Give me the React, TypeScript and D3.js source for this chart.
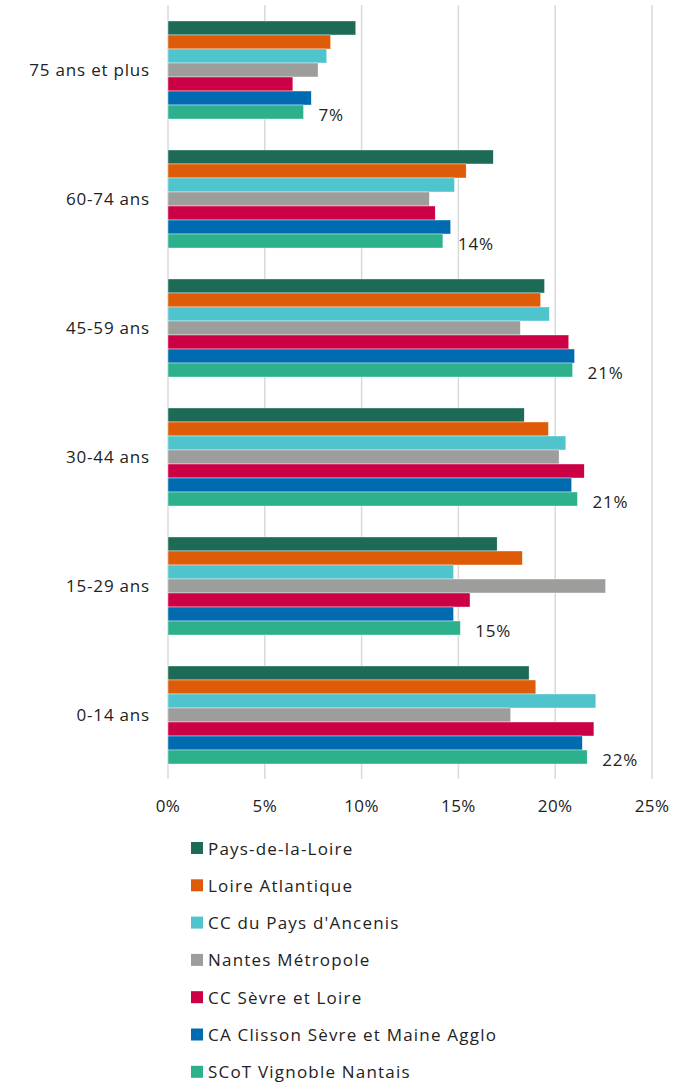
import * as d3 from 'd3'

const ageGroups = ['75 ans et plus', '60-74 ans', '45-59 ans', '30-44 ans', '15-29 ans', '0-14 ans']
const territories = [
  'Pays-de-la-Loire',
  'Loire Atlantique',
  "CC du Pays d'Ancenis",
  'Nantes Métropole',
  'CC Sèvre et Loire',
  'CA Clisson Sèvre et Maine Agglo',
  'SCoT Vignoble Nantais',
]
const colors = ['#1D6B57', '#DE5C08', '#4FC4CC', '#9D9E9B', '#CC0044', '#006BB0', '#2DB08C']

// share of population (%) per age group, one array per territory
const paysDeLaLoire = [9.7, 16.8, 19.45, 18.4, 17.0, 18.65]
const loireAtlantique = [8.4, 15.4, 19.25, 19.65, 18.3, 19.0]
const ancenis = [8.2, 14.8, 19.7, 20.55, 14.75, 22.1]
const nantesMetropole = [7.75, 13.5, 18.2, 20.2, 22.6, 17.7]
const sevreEtLoire = [6.45, 13.8, 20.7, 21.5, 15.6, 22.0]
const clisson = [7.4, 14.6, 21.0, 20.85, 14.75, 21.4]
const scot = [7.0, 14.2, 20.9, 21.15, 15.1, 21.65]

const series = [paysDeLaLoire, loireAtlantique, ancenis, nantesMetropole, sevreEtLoire, clisson, scot]
const xTicks = [0, 5, 10, 15, 20, 25]

const W = 691
const H = 1085
const FONT = '"Open Sans", Lato, sans-serif'

export default function App() {
  const x = d3.scaleLinear().domain([0, 25]).range([168, 652])
  const y = d3.scaleBand<string>().domain(ageGroups).range([5.5, 779.5]).paddingInner(0.24).paddingOuter(0.12)
  const inner = d3.scaleBand<number>().domain(d3.range(territories.length)).range([0, y.bandwidth()])
  const pct = d3.format('.0%')

  return (
    <svg width={W} height={H} style={{ position: 'absolute', left: 0, top: 0, background: '#fff' }} fontFamily={FONT}>
      {xTicks.map(t => (
        <g key={t}>
          <line x1={x(t)} x2={x(t)} y1={5} y2={779} stroke="#d9d9d9" strokeWidth={1.5} />
          <text x={x(t)} y={805} textAnchor="middle" dominantBaseline="central" fontSize={17} letterSpacing={0.4} fill="#222">{t}%</text>
        </g>
      ))}
      {ageGroups.map((g, gi) => (
        <g key={g} transform={`translate(0,${y(g)})`}>
          <text x={150} y={y.bandwidth() / 2} textAnchor="end" dominantBaseline="central" fontSize={17} letterSpacing={0.8} fill="#222">{g}</text>
          {series.map((s, si) => (
            <rect key={si} x={x(0)} y={inner(si)} width={x(s[gi]) - x(0)} height={inner.bandwidth()} fill={colors[si]} stroke="#fff" strokeWidth={0.4} />
          ))}
          <text
            x={x(scot[gi]) + 15}
            y={(inner(6) ?? 0) + inner.bandwidth() / 2 + 2}
            dominantBaseline="central"
            fontSize={17}
            letterSpacing={0.8}
            fill="#222"
          >
            {pct(scot[gi] / 100)}
          </text>
        </g>
      ))}
      {territories.map((t, i) => (
        <g key={t} transform={`translate(191,${848 + i * 37.3})`}>
          <rect x={0} y={-6} width={12} height={12} fill={colors[i]} />
          <text x={17} y={0} dominantBaseline="central" fontSize={17} fill="#222" letterSpacing={1.2}>{t}</text>
        </g>
      ))}
    </svg>
  )
}
